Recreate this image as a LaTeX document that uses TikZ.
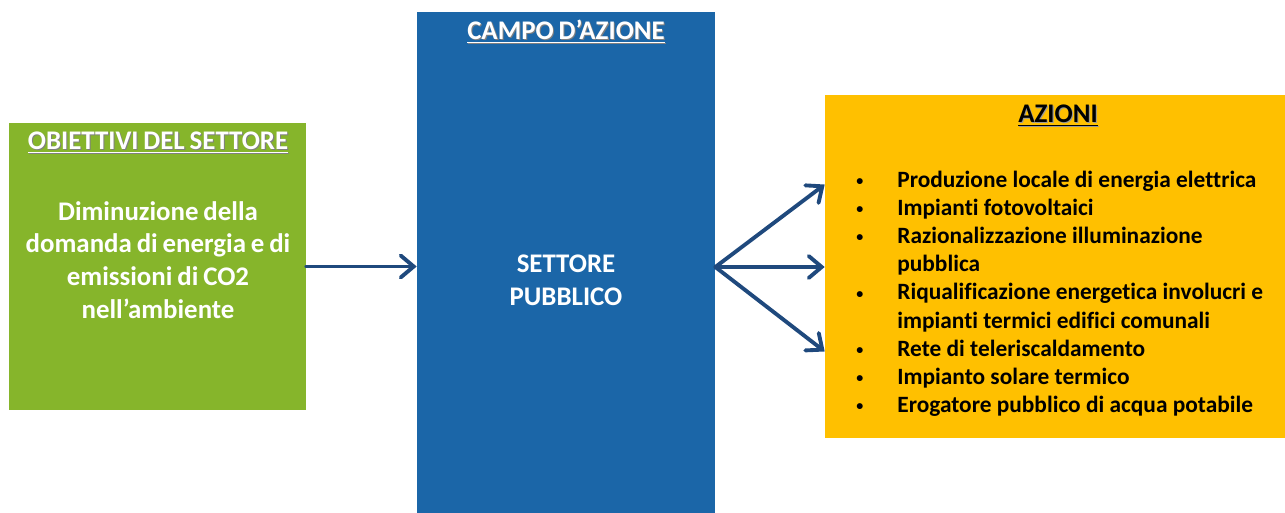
\documentclass[tikz,border=0pt]{standalone}
\usepackage{fontspec}
\setmainfont{Carlito}[Ligatures=NoCommon, WordSpace=0.8]
\usetikzlibrary{arrows.meta}

\definecolor{verdeobj}{RGB}{134,181,43}
\definecolor{bluecampo}{RGB}{27,102,168}
\definecolor{gialloaz}{RGB}{255,192,0}
\definecolor{freccia}{RGB}{31,73,125}

% titolo sottolineato con ombra
\newcommand{\titolo}[2]{\makebox[0pt][l]{\kern0.6pt\raisebox{-0.6pt}{\color{#2}\underline{#1}}}\underline{#1}}
\newcommand{\puntino}{\raisebox{0.15ex}{\scalebox{0.6}{\textbullet}}}

\tikzset{
  blocco/.style={draw=none, inner sep=0pt},
  testo/.style={inner sep=0pt, font=\bfseries\fontsize{15.3}{18.7}\selectfont, align=center},
  lista/.style={inner sep=0pt, font=\bfseries\fontsize{13.3}{16}\selectfont, text width=8.6cm, align=left},
  freccia/.style={draw=freccia, line width=2.2pt, line cap=round,
    -{Straight Barb[length=2.6mm,width=4.4mm,line cap=round]}}
}

\begin{document}
\begin{tikzpicture}[x=0.02cm,y=-0.02cm]
    \useasboundingbox (0,0) rectangle (1285,513);
    % Blocchi
    \node[blocco, fill=verdeobj, minimum width=5.94cm, minimum height=5.74cm] (obiettivi) at (157.5,266.5) {};
    \node[blocco, fill=bluecampo, minimum width=5.96cm, minimum height=10.02cm] (campo) at (566,262.5) {};
    \node[blocco, fill=gialloaz, minimum width=9.2cm, minimum height=6.86cm] (azioni) at (1055,266.5) {};
    % Obiettivi del settore
    \node[testo, text=white] (titoloobj) at (158,143) {\titolo{OBIETTIVI DEL SETTORE}{black!50}};
    \node[testo, text=white] (testoobj) at (158,260) {Diminuzione della\\domanda di energia e di\\emissioni di CO2\\nell’ambiente};
    % Campo d'azione
    \node[testo, text=white] (titolocampo) at (566,32) {\titolo{CAMPO D’AZIONE}{black!50}};
    \node[testo, text=white] (settore) at (566,280) {SETTORE\\PUBBLICO};
    % Azioni
    \node[testo, text=black] (titoloaz) at (1058,116) {\titolo{AZIONI}{black!40}};
    \node[lista, anchor=north west] (elenco) at (850,159) {%
      \begin{list}{\puntino}{\setlength\leftmargin{0.94cm}\setlength\labelwidth{0.3cm}%
        \setlength\labelsep{0.68cm}\setlength\itemsep{0pt}\setlength\parsep{0pt}%
        \setlength\topsep{0pt}\setlength\partopsep{0pt}}\raggedright
        \spaceskip=1.25\fontdimen2\font\xspaceskip=0pt
      \item Produzione locale di energia elettrica
      \item Impianti fotovoltaici
      \item Razionalizzazione illuminazione\newline pubblica
      \item Riqualificazione energetica involucri e\newline impianti termici edifici comunali
      \item Rete di teleriscaldamento
      \item Impianto solare termico
      \item Erogatore pubblico di acqua potabile
      \end{list}};
    % Frecce
    \draw[freccia] (obiettivi.east) -- (obiettivi.east -| campo.west);
    \draw[freccia] ([yshift=-0.09cm]campo.east) -- ([yshift=1.64cm]azioni.west);
    \draw[freccia] ([yshift=-0.09cm]campo.east) -- ([yshift=-0.01cm]azioni.west);
    \draw[freccia] ([yshift=-0.09cm]campo.east) -- ([yshift=-1.7cm]azioni.west);
\end{tikzpicture}
\end{document}
